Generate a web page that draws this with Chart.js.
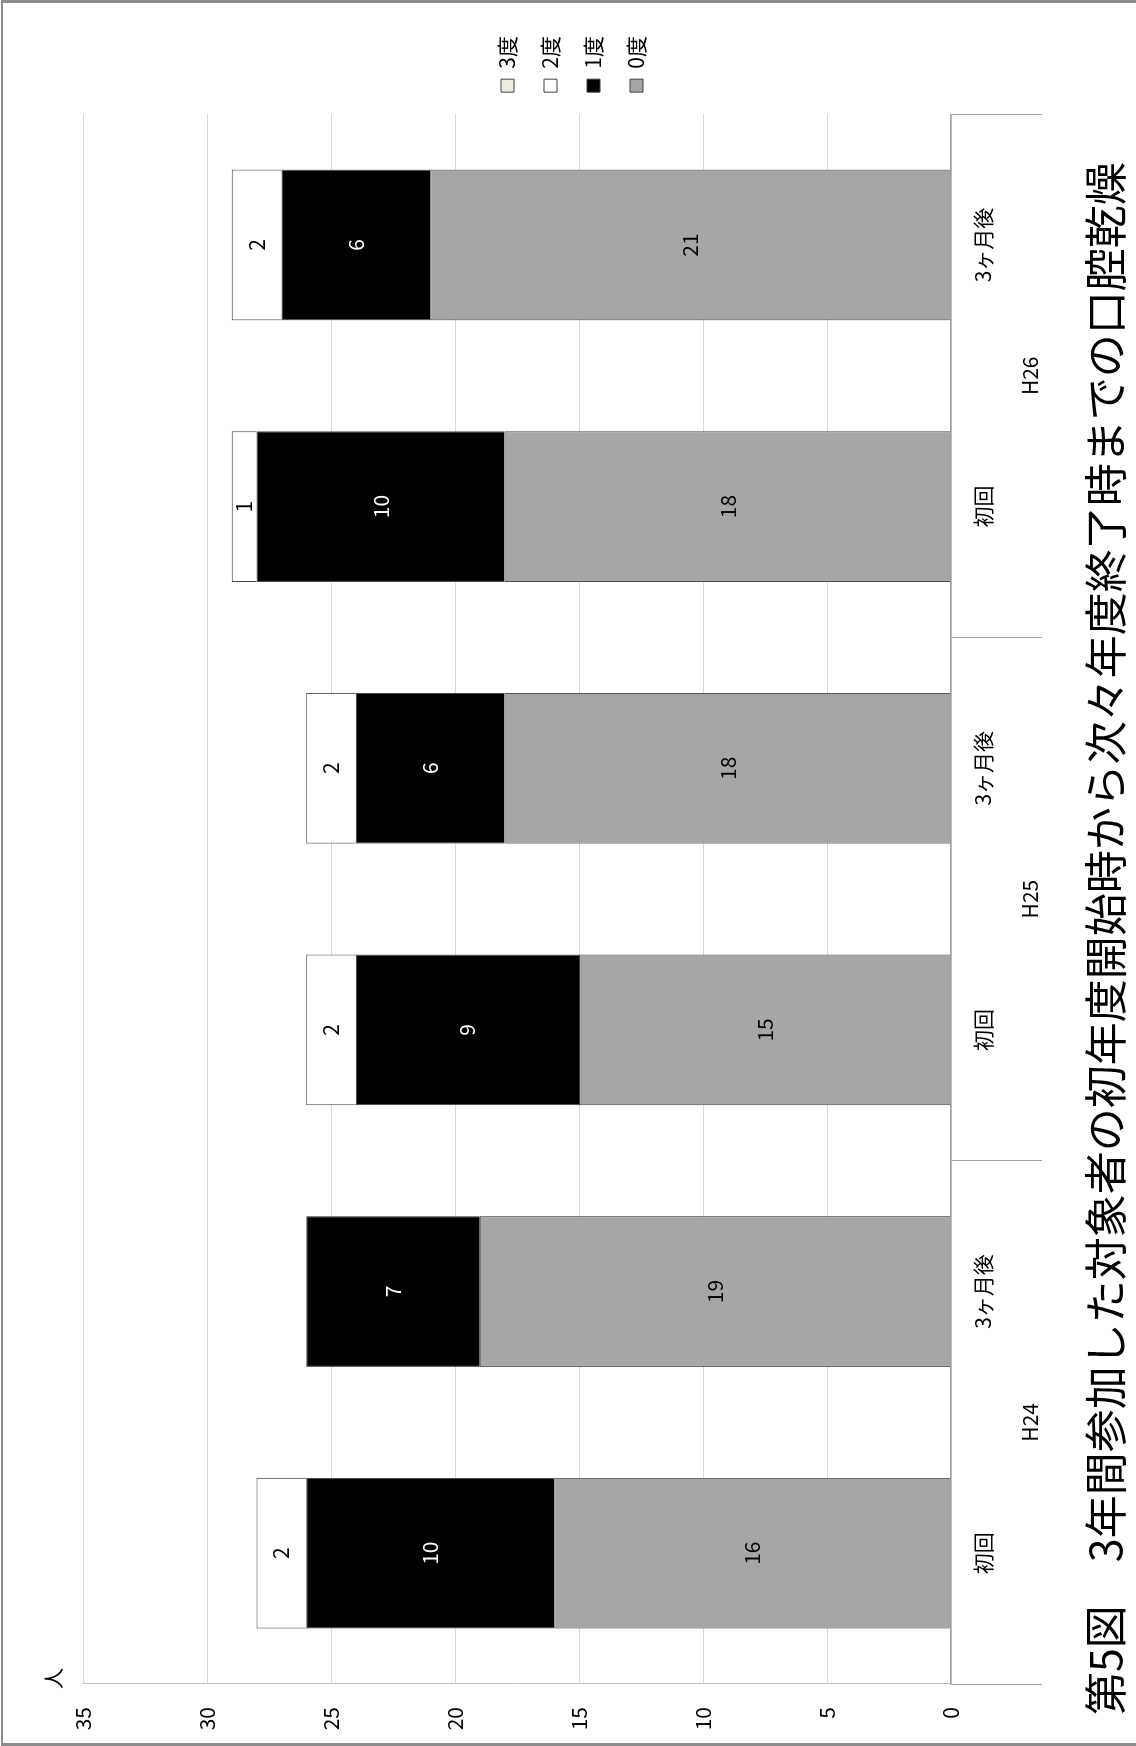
<!DOCTYPE html>
<html>
<head>
<meta charset="utf-8">
<script src="https://cdn.jsdelivr.net/npm/chart.js@4"></script>
<style>
  html, body { margin: 0; padding: 0; background: #fff; }
  body { width: 1136px; height: 1746px; position: relative; overflow: hidden; }
  #frame {
    position: absolute; left: 1px; top: 0; width: 1135px; height: 1746px;
    box-sizing: border-box; pointer-events: none;
    border-top: 3px solid #8c8c8c; border-left: 2px solid #8c8c8c; border-bottom: 3px solid #8c8c8c;
  }
  /* the sheet is laid out landscape and turned a quarter turn */
  #sheet {
    position: absolute; left: 0; top: 0; width: 1746px; height: 1136px;
    transform-origin: 0 0; transform: translate(0, 1746px) rotate(-90deg);
  }
  #sheet canvas { position: absolute; left: 0; top: 0; }
  .txt { position: absolute; font-family: "Noto Sans CJK JP", sans-serif; color: #000; white-space: nowrap; }
  #unit { left: 57px; top: 37px; font-size: 21px; line-height: 30px; }
  #caption { left: 31px; top: 1073px; font-size: 43px; line-height: 60px; }
</style>
</head>
<body>
<div id="sheet">
  <canvas id="chart" width="1746" height="1136"></canvas>
  <div class="txt" id="unit">人</div>
  <div class="txt" id="caption">第5図　3年間参加した対象者の初年度開始時から次々年度終了時までの口腔乾燥</div>
</div>
<div id="frame"></div>
<script>
// categories: each year has a first session and a follow-up three months later
const categories = ['初回', '3ヶ月後', '初回', '3ヶ月後', '初回', '3ヶ月後'];
const years = ['H24', 'H25', 'H26'];
const seriesNames = ['0度', '1度', '2度', '3度'];

// number of people per dryness grade
const grade0 = [16, 19, 15, 18, 18, 21];
const grade1 = [10, 7, 9, 6, 10, 6];
const grade2 = [2, 0, 2, 2, 1, 2];
const grade3 = [0, 0, 0, 0, 0, 0];

const valueMin = 0;
const valueMax = 35;
const valueStep = 5;

const FONT = '"Noto Sans CJK JP", sans-serif';
Chart.defaults.font.family = FONT;
Chart.defaults.color = '#000';

const fills = ['#a6a6a6', '#000000', '#ffffff', '#eeece1'];
const labelInk = ['#000000', '#ffffff', '#000000', '#000000'];
const seriesValues = [grade0, grade1, grade2, grade3];

const datasets = seriesNames.map((name, i) => ({
  label: name,
  data: seriesValues[i],
  backgroundColor: fills[i],
  borderColor: '#404040',
  borderWidth: 1,
  xAxisID: 'x',
  yAxisID: 'y',
  labelInk: labelInk[i]
}));

// writes each segment's count in the middle of the segment
const segmentLabels = {
  id: 'segmentLabels',
  afterDatasetsDraw(chart) {
    const ctx = chart.ctx;
    ctx.save();
    ctx.font = '21px ' + FONT;
    ctx.textAlign = 'center';
    ctx.textBaseline = 'middle';
    chart.data.datasets.forEach((ds, i) => {
      const meta = chart.getDatasetMeta(i);
      if (meta.hidden) return;
      meta.data.forEach((bar, j) => {
        const v = ds.data[j];
        if (!v) return;
        const p = bar.getProps(['x', 'y', 'base'], true);
        ctx.fillStyle = ds.labelInk;
        ctx.fillText(String(v), p.x, (p.y + p.base) / 2);
      });
    });
    ctx.restore();
  }
};

const divider = '#a0a0a0';

new Chart(document.getElementById('chart'), {
  type: 'bar',
  data: { labels: categories, datasets },
  options: {
    responsive: false,
    animation: false,
    devicePixelRatio: 1,
    layout: { padding: { top: 83, bottom: 75, left: 10, right: 26 } },
    datasets: { bar: { categoryPercentage: 1, barPercentage: 0.576 } },
    plugins: {
      title: { display: false },
      tooltip: { enabled: false },
      legend: {
        position: 'right',
        align: 'center',
        reverse: true,
        labels: { font: { size: 21 }, boxWidth: 13, boxHeight: 13, padding: 22, color: '#000' }
      }
    },
    scales: {
      x: {
        stacked: true,
        position: 'bottom',
        offset: true,
        grid: {
          offset: true,
          drawOnChartArea: false,
          drawTicks: true,
          tickLength: 91,
          lineWidth: 1,
          color: (c) => (c.type === 'scale' || c.index % 2 === 0) ? divider : 'rgba(0,0,0,0)'
        },
        border: { display: true, color: divider, width: 1.5 },
        ticks: { font: { size: 21 }, padding: -72, maxRotation: 0, autoSkip: false, color: '#000' },
        afterFit: (s) => { s.height = 55; }
      },
      x2: {
        type: 'category',
        labels: years,
        position: 'bottom',
        weight: 1,
        offset: true,
        grid: { display: false, drawTicks: false },
        border: { display: false },
        ticks: { font: { size: 21 }, padding: 11, maxRotation: 0, color: '#000' },
        afterFit: (s) => { s.height = 55; }
      },
      y: {
        stacked: true,
        min: valueMin,
        max: valueMax,
        ticks: { stepSize: valueStep, font: { size: 21 }, padding: 23, color: '#000' },
        grid: { color: '#d9d9d9', lineWidth: 1, drawTicks: false },
        border: { display: true, color: '#bfbfbf', width: 1 },
        afterFit: (s) => { s.width = 52; }
      }
    }
  },
  plugins: [segmentLabels]
});
</script>
</body>
</html>
